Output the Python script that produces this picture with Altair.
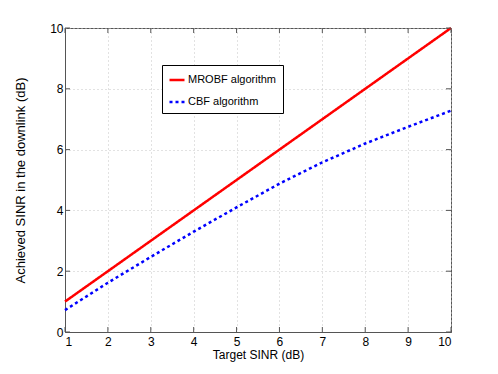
import altair as alt
import pandas as pd

x_vals = [1, 2, 3, 4, 5, 6, 7, 8, 9, 10]
mrobf = [1, 2, 3, 4, 5, 6, 7, 8, 9, 10]
cbf = [0.72, 1.62, 2.47, 3.3, 4.1, 4.88, 5.58, 6.2, 6.75, 7.28]
series = ["MROBF algorithm", "CBF algorithm"]
x_ticks = [1, 2, 3, 4, 5, 6, 7, 8, 9, 10]
y_ticks = [0, 2, 4, 6, 8, 10]

rows = []
for xv, v in zip(x_vals, mrobf):
    rows.append({"x": xv, "y": v, "series": series[0]})
for xv, v in zip(x_vals, cbf):
    rows.append({"x": xv, "y": v, "series": series[1]})
df = pd.DataFrame(rows)
xt = pd.DataFrame({"t": x_ticks})
yt = pd.DataFrame({"t": y_ticks})

NARROW = "Liberation Sans Narrow, Arial Narrow, Liberation Sans, Arial"
AXC = "#555555"
W, H = 386, 304

xs = alt.Scale(domain=[1, 10], nice=False, zero=False)
ys = alt.Scale(domain=[0, 10], nice=False)

xaxis = alt.Axis(values=x_ticks, title="Target SINR (dB)", tickSize=0, labelPadding=4,
                 labelFont=NARROW, labelFontSize=12, labelColor="#000",
                 titleFont=NARROW, titleFontSize=12, titleFontWeight="normal",
                 titleColor="#000", titlePadding=2,
                 domainColor=AXC, grid=True, gridColor="#c4c4c4", gridDash=[1, 3],
                 format="d")
yaxis = alt.Axis(values=y_ticks, title="Achieved SINR in the downlink (dB)", tickSize=0,
                 labelPadding=2, labelFont=NARROW, labelFontSize=12, labelColor="#000",
                 titleFont="Liberation Sans, Arial", titleFontSize=13, titleFontWeight="normal",
                 titleColor="#000", titlePadding=22,
                 domainColor=AXC, grid=True, gridColor="#c4c4c4", gridDash=[1, 3],
                 format="d")

leg = alt.Legend(title=None, orient="none", legendX=97, legendY=37,
                 strokeColor="#000", fillColor="#fff", padding=6,
                 symbolType="stroke", symbolSize=225, symbolStrokeWidth=2.5,
                 labelFont=NARROW, labelFontSize=11, labelColor="#000",
                 rowPadding=8, labelOffset=2)

lines = alt.Chart(df).mark_line(strokeWidth=2.5).encode(
    x=alt.X("x:Q", scale=xs, axis=xaxis),
    y=alt.Y("y:Q", scale=ys, axis=yaxis),
    color=alt.Color("series:N", scale=alt.Scale(domain=series, range=["#ff0000", "#0000ff"]),
                    legend=leg, sort=series),
    strokeDash=alt.StrokeDash("series:N", scale=alt.Scale(domain=series, range=[[1, 0], [3, 3]]),
                              legend=leg, sort=series),
)

tl = 5
bottom_ticks = alt.Chart(xt).mark_rule(color=AXC).encode(
    x=alt.X("t:Q", scale=xs), y=alt.value(H), y2=alt.value(H - tl))
top_ticks = alt.Chart(xt).mark_rule(color=AXC).encode(
    x=alt.X("t:Q", scale=xs), y=alt.value(0), y2=alt.value(tl))
left_ticks = alt.Chart(yt).mark_rule(color=AXC).encode(
    y=alt.Y("t:Q", scale=ys), x=alt.value(0), x2=alt.value(tl))
right_ticks = alt.Chart(yt).mark_rule(color=AXC).encode(
    y=alt.Y("t:Q", scale=ys), x=alt.value(W), x2=alt.value(W - tl))

chart = alt.layer(lines, bottom_ticks, top_ticks, left_ticks, right_ticks).properties(
    width=W, height=H,
    autosize=alt.AutoSizeParams(type="none"),
    padding={"left": 57, "top": 20, "right": 39, "bottom": 34},
    background="#ffffff",
).configure_view(stroke=AXC, strokeWidth=1)

chart.save("out.html", embed_options={"renderer": "svg", "actions": False})
